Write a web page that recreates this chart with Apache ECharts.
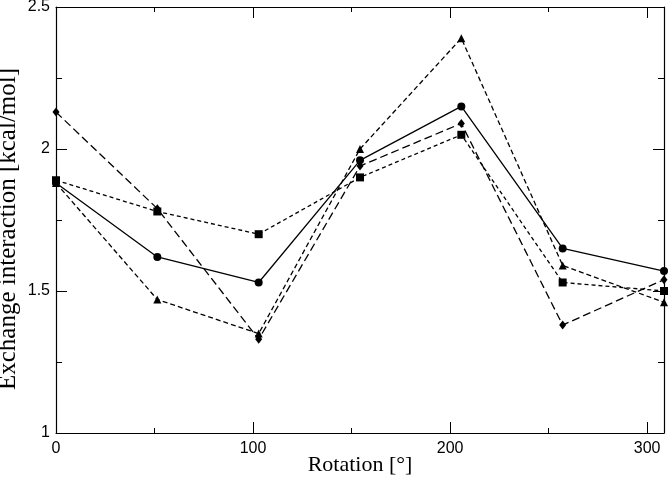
<!DOCTYPE html>
<html>
<head>
<meta charset="utf-8">
<script src="https://cdn.jsdelivr.net/npm/echarts@6/dist/echarts.min.js"></script>
<style>
  html, body { margin: 0; padding: 0; background: #fff; }
  #chart { width: 668px; height: 478px; }
</style>
</head>
<body>
<div id="chart"></div>
<script>
// rotation angles: 7 steps of 360/7 degrees
const rotation = [0, 51.43, 102.86, 154.29, 205.71, 257.14, 308.57];

const circleVals = [1.88, 1.62, 1.53, 1.96, 2.15, 1.65, 1.57];
const squareVals = [1.89, 1.78, 1.70, 1.90, 2.05, 1.53, 1.50];
const triangleVals = [1.88, 1.47, 1.35, 2.00, 2.39, 1.59, 1.46];
const diamondVals = [2.13, 1.79, 1.33, 1.94, 2.09, 1.38, 1.54];

const X_MAX = 308.57;
const LABEL_FONT = 'Liberation Sans, Arial, sans-serif';
const TITLE_FONT = 'Liberation Serif, Times New Roman, serif';

const pairs = (vals) => rotation.map((x, i) => [x, vals[i]]);

// one x axis per tick size, so minor ticks stop at 250
const xAxisDef = (position, interval, tickLen, withLabels) => ({
  type: 'value',
  position: position,
  min: 0,
  max: X_MAX,
  interval: interval,
  axisLine: { show: withLabels, lineStyle: { color: '#000', width: 1.2 } },
  axisTick: {
    show: true,
    inside: true,
    length: tickLen,
    lineStyle: { color: '#000', width: 1 },
  },
  axisLabel: {
    show: withLabels,
    showMaxLabel: false,
    color: '#000',
    fontFamily: LABEL_FONT,
    fontSize: 16,
    margin: 8,
    formatter: (v) => (v % 100 === 0 ? String(v) : ''),
  },
  splitLine: { show: false },
});

const yAxisDef = (position, withLabels) => ({
  type: 'value',
  position: position,
  min: 1,
  max: 2.5,
  interval: 0.5,
  axisLine: { show: true, onZero: false, lineStyle: { color: '#000', width: 1.2 } },
  axisTick: {
    show: true,
    inside: true,
    length: 11,
    lineStyle: { color: '#000', width: 1 },
  },
  minorTick: {
    show: true,
    splitNumber: 2,
    length: 6,
    lineStyle: { color: '#000', width: 1 },
  },
  axisLabel: {
    show: withLabels,
    color: '#000',
    fontFamily: LABEL_FONT,
    fontSize: 16,
    margin: 6,
  },
  splitLine: { show: false },
  minorSplitLine: { show: false },
});

const bottomMain = xAxisDef('bottom', 100, 11, true);
bottomMain.name = 'Rotation [°]';
bottomMain.nameLocation = 'middle';
bottomMain.nameGap = 21;
bottomMain.nameMoveOverlap = false;
bottomMain.nameTextStyle = { color: '#000', fontFamily: TITLE_FONT, fontSize: 22 };

const topMain = xAxisDef('top', 100, 11, false);
topMain.axisLine.show = true;

const leftMain = yAxisDef('left', true);
leftMain.name = 'Exchange interaction [kcal/mol]';
leftMain.nameLocation = 'middle';
leftMain.nameGap = 35;
leftMain.nameMoveOverlap = false;
leftMain.nameTextStyle = { color: '#000', fontFamily: TITLE_FONT, fontSize: 25, padding: [0, 18, 0, 0] };

const lineSeries = (name, vals, symbol, dash) => ({
  name: name,
  type: 'line',
  xAxisIndex: 0,
  yAxisIndex: 0,
  data: pairs(vals),
  symbol: symbol,
  symbolSize: symbol === 'diamond' ? [7, 9] : 8,
  showAllSymbol: true,
  itemStyle: { color: '#000' },
  lineStyle: { color: '#000', width: 1.3, type: dash },
  animation: false,
});

const option = {
  animation: false,
  grid: { left: 56, right: 4, top: 7, bottom: 45, containLabel: false, outerBoundsMode: 'none' },
  xAxis: [
    bottomMain,
    xAxisDef('bottom', 50, 5, false),
    topMain,
    xAxisDef('top', 50, 5, false),
  ],
  yAxis: [leftMain, yAxisDef('right', false)],
  series: [
    lineSeries('diamond', diamondVals, 'diamond', [8, 4]),
    lineSeries('triangle', triangleVals, 'triangle', [5, 3]),
    lineSeries('square', squareVals, 'rect', [4, 3]),
    lineSeries('circle', circleVals, 'circle', 'solid'),
  ],
};

const chart = echarts.init(document.getElementById('chart'), null, { renderer: 'canvas' });
chart.setOption(option);
</script>
</body>
</html>
